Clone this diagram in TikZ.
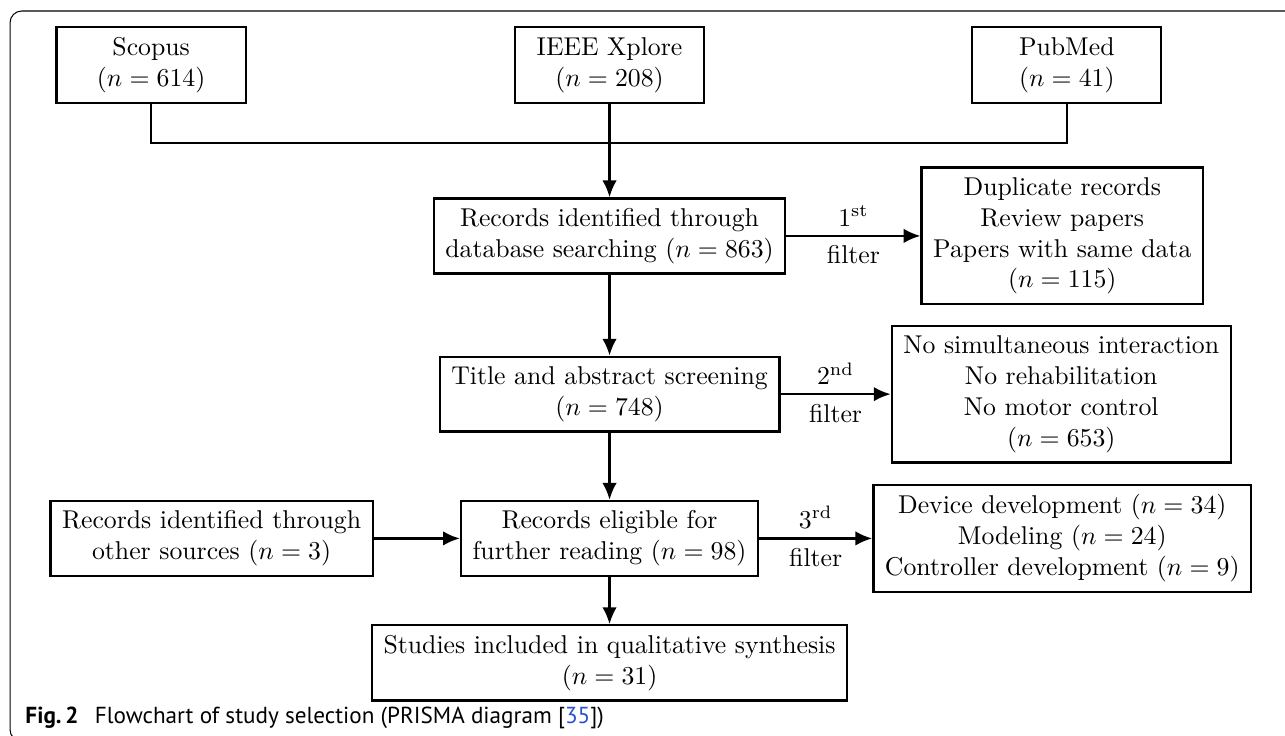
\documentclass[tikz,border=0pt]{standalone}
\usepackage{fontspec}
\newfontfamily\captionfont{PT Sans}
\usepackage{tikz}
\usetikzlibrary{arrows.meta,positioning}
\definecolor{linkblue}{RGB}{40,80,210}

\begin{document}
\begin{tikzpicture}[
        stepbox/.style={draw, line width=0.9pt, align=center, inner xsep=4.5pt, inner ysep=3.8pt},
        dbbox/.style={stepbox, minimum width=2.58cm, minimum height=1.04cm},
        flowarrow/.style={line width=0.9pt, -{Latex[length=6.5pt, width=5.6pt]}}
    ]
    \useasboundingbox (0,0) rectangle (17.54,-10.046);
    % frame of the figure
    \draw[line width=0.4pt, rounded corners=0.16cm] (17.8,-0.15) -- (0.137,-0.15) -- (0.137,-10.12) -- (17.8,-10.12);

    % databases
    \node (ieee) [dbbox] at (8.32,-0.887) {IEEE Xplore\\($n=208$)};
    \node (scopus) [dbbox, left=3.645cm of ieee] {Scopus\\($n=614$)};
    \node (pubmed) [dbbox, right=3.63cm of ieee] {PubMed\\($n=41$)};
    \coordinate [below=0.53cm of ieee.south] (join);

    % main column
    \node (ident) [stepbox, below=1.269cm of ieee] {Records identified through\\database searching ($n=863$)};
    \node (title) [stepbox, below=1.106cm of ident] {Title and abstract screening\\($n=748$)};
    \node (elig) [stepbox, below=0.915cm of title] {Records eligible for\\further reading ($n=98$)};
    \node (studies) [stepbox, below=0.642cm of elig] {Studies included in qualitative synthesis\\($n=31$)};

    % excluded records
    \node (dup) [stepbox, right=1.829cm of ident] {Duplicate records\\Review papers\\Papers with same data\\($n=115$)};
    \node (nosim) [stepbox, right=1.502cm of title] {No simultaneous interaction\\No rehabilitation\\No motor control\\($n=653$)};
    \node (device) [stepbox, right=1.542cm of elig] {Device development ($n=34$)\\Modeling ($n=24$)\\Controller development ($n=9$)};
    \node (other) [stepbox, left=1.174cm of elig] {Records identified through\\other sources ($n=3$)};

    \draw[line width=0.9pt] (scopus) |- (join) -| (pubmed);
    \draw[flowarrow] (ieee) -- (ident);
    \draw[flowarrow] (ident) -- (title);
    \draw[flowarrow] (title) -- (elig);
    \draw[flowarrow] (elig) -- (studies);
    \draw[flowarrow] (other) -- (elig);
    \draw[flowarrow] (ident) -- node[above] {1\textsuperscript{st}} node[below] {filter} (dup);
    \draw[flowarrow] (title) -- node[above] {2\textsuperscript{nd}} node[below] {filter} (nosim);
    \draw[flowarrow] (elig) -- node[above] {3\textsuperscript{rd}} node[below] {filter} (device);

    \node (caption) [anchor=base west, inner sep=0pt, font=\captionfont\fontsize{9}{11}\selectfont] at (0.341,-9.869)
        {\textbf{Fig.\,2}\hspace{0.7em}Flowchart of study selection (PRISMA diagram [\textcolor{linkblue}{35}])};
\end{tikzpicture}
\end{document}
